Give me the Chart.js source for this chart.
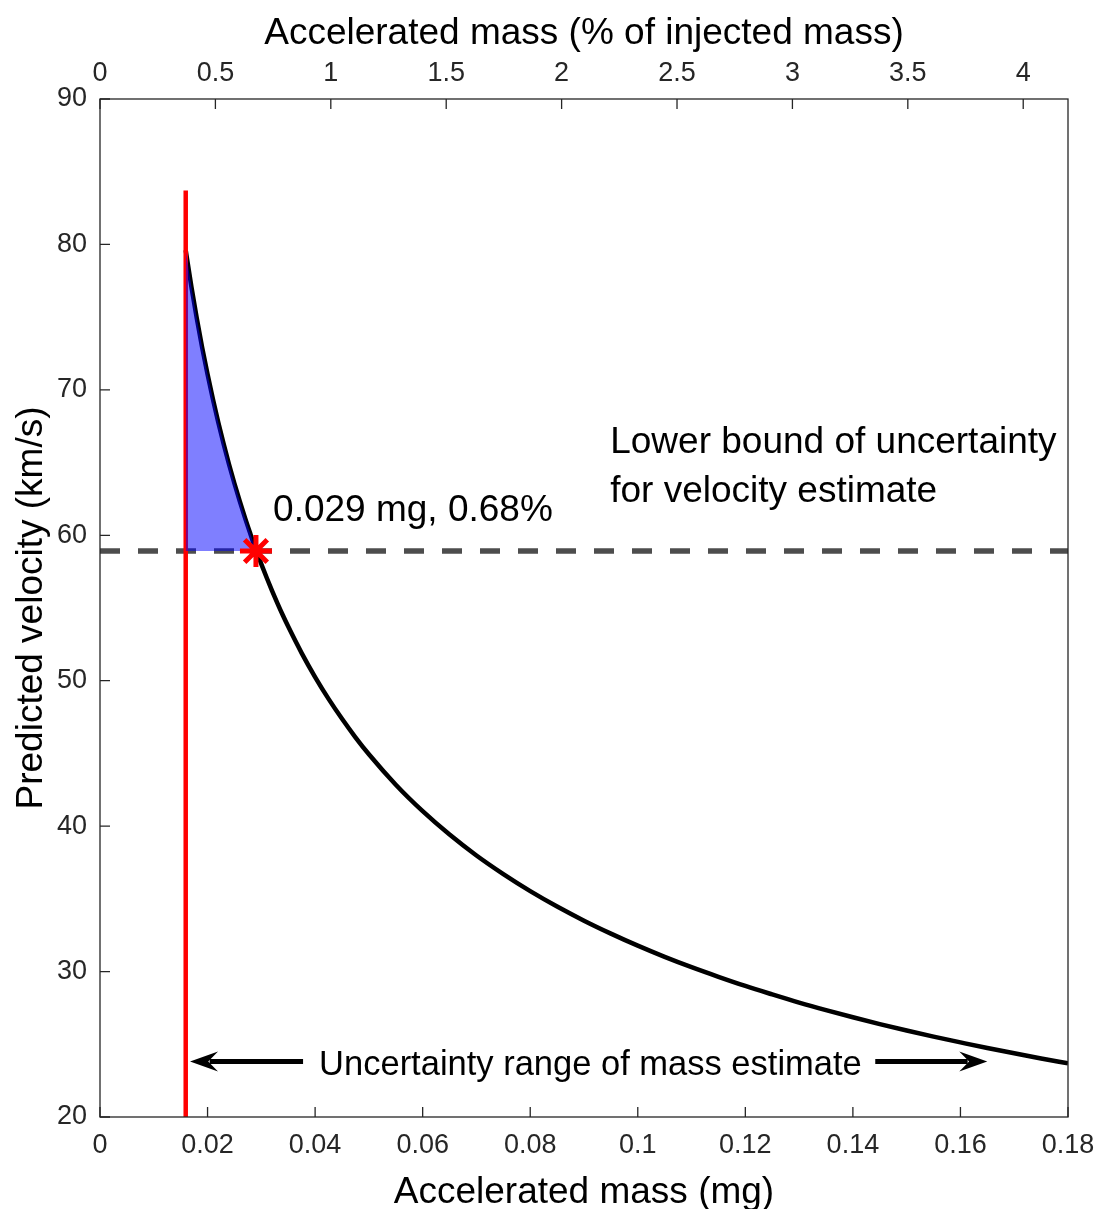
<!DOCTYPE html>
<html>
<head>
<meta charset="utf-8">
<script src="https://cdn.jsdelivr.net/npm/chart.js@4"></script>
<style>
  body { margin: 0; background: #ffffff; }
  canvas { display: block; }
</style>
</head>
<body>
<canvas id="grafico" width="1096" height="1209"></canvas>
<script>
// curve: accelerated mass (mg) -> predicted velocity (km/s)
var masa = [0.01594, 0.017, 0.018, 0.019, 0.020, 0.021, 0.022, 0.023, 0.024, 0.025, 0.026, 0.027, 0.028, 0.029,
            0.030, 0.031, 0.032, 0.033, 0.034, 0.035, 0.0375, 0.040, 0.0425, 0.045, 0.0475, 0.050, 0.055,
            0.060, 0.065, 0.070, 0.075, 0.080, 0.085, 0.090, 0.095, 0.100, 0.105, 0.110, 0.115, 0.120,
            0.125, 0.130, 0.135, 0.140, 0.145, 0.150, 0.155, 0.160, 0.165, 0.170, 0.175, 0.180];
var velocidad = [79.60, 77.08, 74.91, 72.91, 71.07, 69.35, 67.76, 66.27, 64.87, 63.56, 62.33, 61.16, 60.06, 58.98,
                 58.02, 57.08, 56.18, 55.32, 54.50, 53.72, 51.90, 50.25, 48.75, 47.38, 46.11, 44.94, 42.85,
                 41.03, 39.42, 37.98, 36.70, 35.53, 34.47, 33.50, 32.61, 31.78, 31.01, 30.30, 29.64, 29.01,
                 28.43, 27.87, 27.35, 26.86, 26.39, 25.95, 25.53, 25.13, 24.74, 24.38, 24.02, 23.69];

var masaMinima = 0.01594;      // red vertical line (lower mass bound)
var topeLineaRoja = 83.7;
var velocidadLimite = 58.92;   // dashed lower bound of velocity
var puntoMasa = 0.029;         // marked point
var puntoVelocidad = 58.92;

var ticksMasa = { min: 0, max: 0.18, step: 0.02 };
var ticksPorcentaje = { min: 0, max: 4.194, step: 0.5 };
var ticksVelocidad = { min: 20, max: 90, step: 10 };

var fuente = '"Liberation Sans", Arial, Helvetica, sans-serif';
var colorEje = '#262626';

function fmt(v) { return String(+(+v).toFixed(4)); }

var curva = masa.map(function(m, i) { return { x: m, y: velocidad[i] }; });
var relleno = curva.filter(function(p) { return p.x <= puntoMasa + 1e-9; });

var marco = {
    id: 'marco',
    afterDatasetsDraw: function(chart) {
        var ctx = chart.ctx;
        var a = chart.chartArea;
        var sx = chart.scales.x, sx2 = chart.scales.x2, sy = chart.scales.y;
        ctx.save();
        // box
        ctx.strokeStyle = colorEje;
        ctx.lineWidth = 1.3;
        ctx.strokeRect(a.left, a.top, a.right - a.left, a.bottom - a.top);
        // inward ticks
        ctx.beginPath();
        sx.ticks.forEach(function(t) {
            var px = sx.getPixelForValue(t.value);
            ctx.moveTo(px, a.bottom); ctx.lineTo(px, a.bottom - 10);
        });
        sx2.ticks.forEach(function(t) {
            var px = sx2.getPixelForValue(t.value);
            ctx.moveTo(px, a.top); ctx.lineTo(px, a.top + 10);
        });
        sy.ticks.forEach(function(t) {
            var py = sy.getPixelForValue(t.value);
            ctx.moveTo(a.left, py); ctx.lineTo(a.left + 10, py);
        });
        ctx.stroke();

        // annotations
        ctx.fillStyle = '#000000';
        ctx.font = '37px ' + fuente;
        ctx.textAlign = 'left';
        ctx.textBaseline = 'alphabetic';
        ctx.fillText('0.029 mg, 0.68%', sx.getPixelForValue(0.03218), sy.getPixelForValue(60.99));
        ctx.fillText('Lower bound of uncertainty', sx.getPixelForValue(0.09487), sy.getPixelForValue(65.67));
        ctx.fillText('for velocity estimate', sx.getPixelForValue(0.09487), sy.getPixelForValue(62.29));
        ctx.font = '34.5px ' + fuente;
        ctx.fillText('Uncertainty range of mass estimate', sx.getPixelForValue(0.04074), sy.getPixelForValue(22.87));

        // arrows
        var yf = sy.getPixelForValue(23.82);
        flecha(ctx, sx.getPixelForValue(0.03776), yf, sx.getPixelForValue(0.01674), yf);
        flecha(ctx, sx.getPixelForValue(0.14416), yf, sx.getPixelForValue(0.16499), yf);
        ctx.restore();
    }
};

function flecha(ctx, x0, y0, x1, y1) {
    var dx = x1 - x0, dy = y1 - y0;
    var len = Math.sqrt(dx * dx + dy * dy);
    var ux = dx / len, uy = dy / len;
    var L = 28, W = 10;
    ctx.strokeStyle = '#000000';
    ctx.lineWidth = 5;
    ctx.beginPath();
    ctx.moveTo(x0, y0);
    ctx.lineTo(x1 - ux * L * 0.7, y1 - uy * L * 0.7);
    ctx.stroke();
    ctx.fillStyle = '#000000';
    ctx.beginPath();
    ctx.moveTo(x1, y1);
    ctx.lineTo(x1 - ux * L - uy * W, y1 - uy * L + ux * W);
    ctx.lineTo(x1 - ux * L * 0.65, y1 - uy * L * 0.65);
    ctx.lineTo(x1 - ux * L + uy * W, y1 - uy * L - ux * W);
    ctx.closePath();
    ctx.fill();
}

// keep label overhang from shrinking the plot area
function ajusteHorizontal(alto) {
    return function(s) {
        s.height = alto;
        s.paddingLeft = 0;
        s.paddingRight = 0;
    };
}

var ctx = document.getElementById('grafico').getContext('2d');
var grafico = new Chart(ctx, {
    type: 'line',
    data: {
        datasets: [
            {
                label: 'lower bound',
                data: [{ x: ticksMasa.min, y: velocidadLimite }, { x: ticksMasa.max, y: velocidadLimite }],
                borderColor: '#4d4d4d',
                borderWidth: 5.5,
                borderDash: [20, 18],
                pointRadius: 0,
                fill: false,
                order: 5
            },
            {
                label: 'curve',
                data: curva,
                borderColor: '#000000',
                borderWidth: 4.5,
                cubicInterpolationMode: 'monotone',
                pointRadius: 0,
                fill: false,
                order: 4
            },
            {
                label: 'mass bound',
                data: [{ x: masaMinima, y: ticksVelocidad.min }, { x: masaMinima, y: topeLineaRoja }],
                borderColor: '#ff0000',
                borderWidth: 4.5,
                pointRadius: 0,
                fill: false,
                order: 3
            },
            {
                label: 'area',
                data: relleno,
                borderWidth: 0,
                borderColor: 'rgba(0,0,0,0)',
                backgroundColor: 'rgba(0,0,255,0.5)',
                cubicInterpolationMode: 'monotone',
                pointRadius: 0,
                fill: { value: velocidadLimite },
                order: 2
            },
            {
                label: 'point',
                data: [{ x: puntoMasa, y: puntoVelocidad }],
                showLine: false,
                pointStyle: 'star',
                pointRadius: 16,
                pointBorderWidth: 5,
                pointBorderColor: '#ff0000',
                pointBackgroundColor: '#ff0000',
                order: 1
            }
        ]
    },
    options: {
        responsive: false,
        animation: false,
        events: [],
        layout: { padding: { left: 0, right: 28, top: 0, bottom: 0 } },
        plugins: {
            legend: { display: false },
            tooltip: { enabled: false }
        },
        scales: {
            x: {
                type: 'linear',
                position: 'bottom',
                min: ticksMasa.min,
                max: ticksMasa.max,
                grid: { display: false, drawTicks: false },
                border: { display: false },
                ticks: {
                    stepSize: ticksMasa.step,
                    includeBounds: false,
                    padding: 12.8,
                    color: colorEje,
                    font: { family: fuente, size: 27 },
                    maxRotation: 0,
                    autoSkip: false,
                    callback: function(v) { return fmt(v); }
                },
                title: {
                    display: true,
                    text: 'Accelerated mass (mg)',
                    color: '#000000',
                    font: { family: fuente, size: 37, lineHeight: 0.84 },
                    padding: { top: 0, bottom: 0.5 }
                },
                afterFit: ajusteHorizontal(92)
            },
            x2: {
                type: 'linear',
                position: 'top',
                min: ticksPorcentaje.min,
                max: ticksPorcentaje.max,
                grid: { display: false, drawTicks: false },
                border: { display: false },
                ticks: {
                    stepSize: ticksPorcentaje.step,
                    includeBounds: false,
                    padding: 9.5,
                    color: colorEje,
                    font: { family: fuente, size: 27 },
                    maxRotation: 0,
                    autoSkip: false,
                    callback: function(v) { return fmt(v); }
                },
                title: {
                    display: true,
                    text: 'Accelerated mass (% of injected mass)',
                    color: '#000000',
                    font: { family: fuente, size: 37, lineHeight: 1 },
                    padding: { top: 15.5, bottom: 0 }
                },
                afterFit: ajusteHorizontal(99)
            },
            y: {
                type: 'linear',
                position: 'left',
                min: ticksVelocidad.min,
                max: ticksVelocidad.max,
                grid: { display: false, drawTicks: false },
                border: { display: false },
                ticks: {
                    stepSize: ticksVelocidad.step,
                    padding: 13,
                    color: colorEje,
                    font: { family: fuente, size: 27 },
                    callback: function(v) { return fmt(v); }
                },
                title: {
                    display: true,
                    text: 'Predicted velocity (km/s)',
                    color: '#000000',
                    font: { family: fuente, size: 37, lineHeight: 1.2 },
                    padding: { top: 10, bottom: 0 }
                },
                afterFit: function(s) { s.width = 100; }
            }
        }
    },
    plugins: [marco]
});
</script>
</body>
</html>
